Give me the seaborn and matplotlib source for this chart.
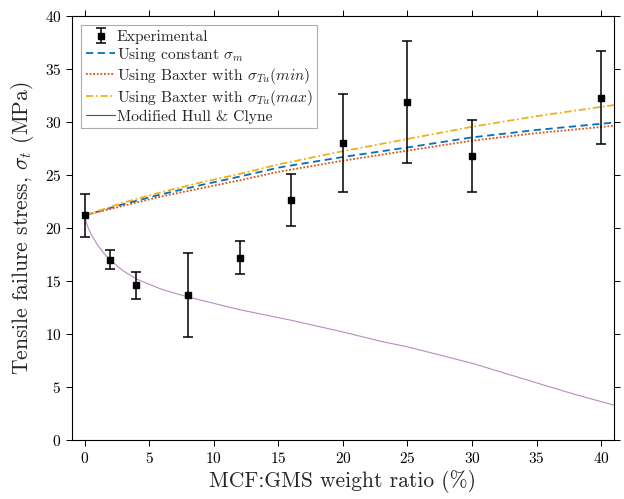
import numpy as np
import pandas as pd
import matplotlib
matplotlib.use("Agg")
import matplotlib.pyplot as plt
import seaborn as sns

# ---- data ----
exp_x = [0, 2, 4, 8, 12, 16, 20, 25, 30, 40]
exp_y = [21.2, 17.0, 14.6, 13.7, 17.2, 22.6, 28.0, 31.9, 26.8, 32.3]
exp_err = [2.0, 0.9, 1.3, 3.95, 1.55, 2.45, 4.6, 5.75, 3.4, 4.4]

model_x = [0, 3, 6, 9, 12, 15, 20, 25, 30, 35, 41]
const_sigma = [21.2, 22.25, 23.2, 24.05, 24.85, 25.7, 26.7, 27.6, 28.55, 29.25, 29.95]
baxter_min = [21.2, 22.1, 23.0, 23.75, 24.5, 25.3, 26.35, 27.3, 28.24, 28.95, 29.65]
baxter_max = [21.2, 22.4, 23.4, 24.3, 25.1, 26.0, 27.25, 28.4, 29.55, 30.55, 31.6]

hull_x = [0, 0.1, 0.25, 0.5, 1, 1.5, 2, 3, 4, 6, 8, 10, 12, 14, 16, 20, 23, 25, 30, 35, 38, 41]
hull_y = [21.2, 20.6, 20.1, 19.4, 18.4, 17.6, 16.95, 15.95, 15.2, 14.2, 13.5, 12.9, 12.3,
          11.8, 11.3, 10.2, 9.3, 8.8, 7.25, 5.4, 4.3, 3.3]

xticks = [0, 5, 10, 15, 20, 25, 30, 35, 40]
yticks = [0, 5, 10, 15, 20, 25, 30, 35, 40]

sns.set_theme(style="ticks")
plt.rcParams.update({
    "font.family": "serif",
    "font.serif": ["cmr10"],
    "mathtext.fontset": "cm",
    "axes.formatter.use_mathtext": True,
    "axes.unicode_minus": False,
})

fig = plt.figure(figsize=(6.24, 4.99), dpi=100)
ax = fig.add_axes([0.115, 0.118, 0.869, 0.850])

c_blue = "#0072BD"
c_red = "#D95319"
c_yel = "#EDB120"
c_pur = "#7E2F8E"

sns.lineplot(x=model_x, y=const_sigma, ax=ax, color=c_blue, linestyle=(0, (4, 2.5)),
             linewidth=1.3, label=r"Using constant $\sigma_m$")
sns.lineplot(x=model_x, y=baxter_min, ax=ax, color=c_red, linestyle=(0, (1, 1)),
             linewidth=1.3, label=r"Using Baxter with $\sigma_{Tu}(min)$")
sns.lineplot(x=model_x, y=baxter_max, ax=ax, color=c_yel, linestyle=(0, (4, 1.5, 1, 1.5)),
             linewidth=1.3, label=r"Using Baxter with $\sigma_{Tu}(max)$")
sns.lineplot(x=hull_x, y=hull_y, ax=ax, color=c_pur, linestyle="-", alpha=0.55,
             linewidth=0.8, label="Modified Hull & Clyne")

ax.errorbar(exp_x, exp_y, yerr=exp_err, fmt="s", color="black", markersize=4.5,
            elinewidth=1.1, capsize=3.5, capthick=1.1, label="Experimental", zorder=5)

handles, labels = ax.get_legend_handles_labels()
order = [labels.index("Experimental")] + [i for i, l in enumerate(labels) if l != "Experimental"]
leg = ax.legend([handles[i] for i in order], [labels[i] for i in order], loc="upper left",
                fontsize=11.2, frameon=True, fancybox=False, edgecolor="#999999",
                handlelength=1.9, handletextpad=0.1, borderpad=0.3, labelspacing=0.12,
                borderaxespad=0.6)
leg.get_frame().set_linewidth(0.8)
for ln in leg.get_lines():
    ln.set_alpha(1)

ax.set_xlim(-1, 41)
ax.set_ylim(0, 40)
ax.set_xticks(xticks)
ax.set_yticks(yticks)
ax.tick_params(direction="out", length=4, width=0.7, labelsize=11, top=True, right=True,
               labeltop=False, labelright=False, colors="black")
for s in ax.spines.values():
    s.set_visible(True)
    s.set_linewidth(0.8)
    s.set_color("black")
ax.set_xlabel("MCF:GMS weight ratio (%)", fontsize=15.5, labelpad=3)
ax.set_ylabel(r"Tensile failure stress, $\sigma_t$ (MPa)", fontsize=15.5, labelpad=6)
ax.grid(False)

fig.savefig("out.png", dpi=100)
